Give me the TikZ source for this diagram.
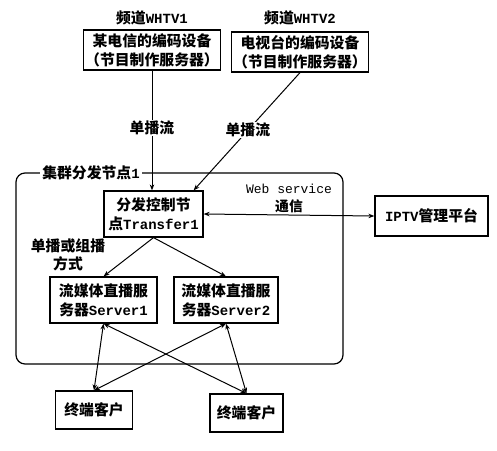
\documentclass[tikz,border=0pt]{standalone}
\usepackage{fontspec}
\setmainfont{Liberation Mono}
\newfontfamily\cjk{Noto Sans CJK SC}[Scale=1.06]
\newcommand{\zh}[1]{{\cjk #1}}
\usetikzlibrary{arrows.meta, positioning}

\begin{document}
\begin{tikzpicture}[
  x=1pt, y=-1pt,
  box/.style={draw, line width=1.2pt, align=center, inner sep=2pt,
              font=\bfseries\fontsize{14}{19}\selectfont},
  arr/.style={-{Stealth[length=6pt,width=4.5pt]}, line width=1pt},
  dbl/.style={{Stealth[length=6pt,width=4.5pt]}-{Stealth[length=6pt,width=4.5pt]}, line width=1pt},
  note/.style={font=\bfseries\fontsize{14}{18}\selectfont, align=center, inner sep=1pt}
]
  \useasboundingbox (0,0) rectangle (497,450);

  % cluster frame
  \draw[line width=1.2pt, rounded corners=9pt] (16,173) rectangle (343,364);
  \node[note, fill=white, inner sep=2pt] (cluster) at (91,173) {\zh{集群分发节点}1};

  % sources
  \node[box, minimum width=134pt, minimum height=40pt] (enc1) at (152,50)
    {\zh{某电信的编码设备}\\\zh{（节目制作服务器）}};
  \node[box, minimum width=134pt, minimum height=40pt] (enc2) at (300,52)
    {\zh{电视台的编码设备}\\\zh{（节目制作服务器）}};
  \node[note, above=3pt of enc1] (ch1) {\zh{频道}WHTV1};
  \node[note, above=5pt of enc2] (ch2) {\zh{频道}WHTV2};

  % cluster inside
  \node[box, minimum width=99pt, minimum height=46pt] (trans) at (153.5,214)
    {\zh{分发控制节}\\\zh{点}Transfer1};
  \node[box, minimum width=107pt, minimum height=46pt] (srv1) at (103.5,300)
    {\zh{流媒体直播服}\\\zh{务器}Server1};
  \node[box, minimum width=104pt, minimum height=46pt] (srv2) at (226,300)
    {\zh{流媒体直播服}\\\zh{务器}Server2};

  % platform and clients
  \node[box, minimum width=113pt, minimum height=40pt] (iptv) at (431.5,216)
    {IPTV\zh{管理平台}};
  \node[box, minimum width=77pt, minimum height=38pt] (cli1) at (94,410) {\zh{终端客户}};
  \node[box, minimum width=73pt, minimum height=38pt] (cli2) at (246.5,413) {\zh{终端客户}};

  % connectors
  \draw[arr] (enc1.south) -- (enc1.south |- trans.north)
    node[note, fill=white, pos=0.48] {\zh{单播流}};
  \draw[arr] (enc2.south) -- ([xshift=-10pt]trans.north east)
    node[note, fill=white, pos=0.49] {\zh{单播流}};
  \draw[dbl] (trans.east) -- (iptv.west)
    node[note, midway, above=1pt, font=\fontsize{13}{18}\selectfont]
    {Web service\\\zh{\bfseries 通信}};
  \draw[arr] (trans.south) -- (srv1.north);
  \draw[arr] (trans.south) -- (srv2.north);
  \node[note] (mode) at (68,255) {\zh{单播或组播}\\\zh{方式}};

  \draw[dbl] (srv1.south) -- (cli1.north);
  \draw[dbl] (srv1.south) -- (cli2.north);
  \draw[dbl] (srv2.south) -- (cli1.north);
  \draw[dbl] (srv2.south) -- (cli2.north);
\end{tikzpicture}
\end{document}
